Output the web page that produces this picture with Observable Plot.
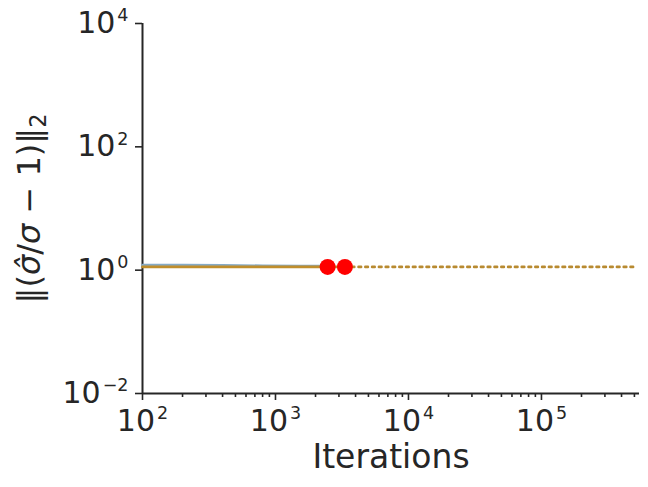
<!DOCTYPE html>
<html>
<head>
<meta charset="utf-8">
<script src="https://cdn.jsdelivr.net/npm/d3@7"></script>
<script src="https://cdn.jsdelivr.net/npm/@observablehq/plot@0.6"></script>
<style>
  html, body { margin: 0; padding: 0; background: white; }
</style>
</head>
<body>
<div id="chart"></div>
<script>
// ---- data ----
const blueIter = [100, 200, 400, 800, 1500, 2466];
const blueErr  = [1.20, 1.20, 1.19, 1.17, 1.16, 1.16];
const goldIter = [100, 400, 1000, 3327];
const goldErr  = [1.13, 1.13, 1.13, 1.13];
const dottedIter = [3327, 500000];
const dottedErr  = [1.13, 1.13];
const markIter = [2466, 3327];
const markErr  = [1.13, 1.13];
const xMajor = [1e2, 1e3, 1e4, 1e5];
const yMajor = [1e-2, 1e0, 1e2, 1e4];
const xLabel = "Iterations";
const yLabel = "‖(σ̂/σ − 1)‖₂";

const xMinor = [];
for (const p of [1e2, 1e3, 1e4, 1e5]) for (let k = 2; k <= 9; k++) if (k * p <= 5.46e5) xMinor.push(k * p);

const ink = "#262626";
const fmt = d => "10^" + Math.round(Math.log10(d));

const plot = Plot.plot({
  width: 648, height: 487,
  marginLeft: 142, marginRight: 9, marginTop: 23, marginBottom: 94,
  x: {type: "log", domain: [100, 5.46e5]},
  y: {type: "log", domain: [1e-2, 1e4]},
  style: {fontFamily: "DejaVu Sans", color: ink, background: "white"},
  marks: [
    Plot.axisX({ticks: xMinor, tickFormat: () => "", tickSize: 4, strokeWidth: 1.6, label: null}),
    Plot.axisX({ticks: xMajor, tickFormat: fmt, tickSize: 7, strokeWidth: 1.6, tickPadding: 9, fontSize: 30, label: null}),
    Plot.axisY({ticks: yMajor, tickFormat: fmt, tickSize: 7, strokeWidth: 1.6, tickPadding: 7, fontSize: 30, label: null}),
    Plot.ruleY([1e-2], {stroke: ink, strokeWidth: 2}),
    Plot.ruleX([100], {stroke: ink, strokeWidth: 2}),
    Plot.line(blueIter.map((d, i) => ({x: d, y: blueErr[i]})), {x: "x", y: "y", stroke: "#86abc6", strokeWidth: 3}),
    Plot.line(goldIter.map((d, i) => ({x: d, y: goldErr[i]})), {x: "x", y: "y", stroke: "#c08e2c", strokeWidth: 2.8}),
    Plot.line(dottedIter.map((d, i) => ({x: d, y: dottedErr[i]})), {x: "x", y: "y", stroke: "#b88a30", strokeWidth: 2.6, strokeDasharray: "2.6,4.2"}),
    Plot.dot(markIter.map((d, i) => ({x: d, y: markErr[i]})), {x: "x", y: "y", r: 8, fill: "red", stroke: "none"}),
    Plot.text([xLabel], {frameAnchor: "bottom", dy: 64, fontSize: 33, lineAnchor: "middle", fill: ink, className: "xlab"}),
    Plot.text([yLabel], {frameAnchor: "left", dx: -113, rotate: -90, fontSize: 32, textAnchor: "middle", lineAnchor: "middle", fill: ink, className: "ylab"})
  ]
});

// superscripts on tick labels
d3.select(plot).selectAll("text").each(function() {
  const el = d3.select(this);
  const s = el.text();
  const m = /^10\^(-?\d+)$/.exec(s);
  if (!m) return;
  el.text(null);
  el.attr("font-size", 30).style("font-size", "30px");
  el.append("tspan").text("10");
  el.append("tspan").attr("dx", 2).attr("dy", -11.7).attr("font-size", "17.5px").style("font-size", "17.5px").text(m[1].replace("-", "\u2212"));
});

// math-style y label
d3.select(plot).selectAll(".ylab text").each(function() {
  const el = d3.select(this);
  el.text(null);
  const segs = [
    {t: "‖("}, {t: "σ̂", it: true}, {t: "/"}, {t: "σ", it: true}, {t: " − 1)‖"}, {t: "2", sub: true}
  ];
  for (const s of segs) {
    const ts = el.append("tspan").text(s.t);
    if (s.it) ts.attr("font-style", "italic");
    if (s.sub) ts.attr("font-size", "0.7em").attr("dy", "0.3em");
  }
});

document.getElementById("chart").appendChild(plot);
</script>
</body>
</html>
